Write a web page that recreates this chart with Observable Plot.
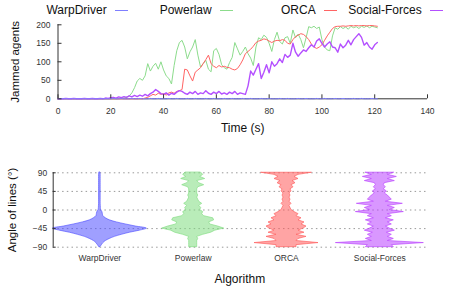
<!DOCTYPE html>
<html><head><meta charset="utf-8">
<script src="https://cdn.jsdelivr.net/npm/d3@7"></script>
<script src="https://cdn.jsdelivr.net/npm/@observablehq/plot@0.6"></script>
<style>
body{margin:0;background:#fff;font-family:"Liberation Sans",Arial,sans-serif;}
#wrap{position:relative;width:449px;height:288px;overflow:hidden;background:#fff;}
#top{position:absolute;left:0;top:0;}
#bottom{position:absolute;left:0;top:140px;}
.leg{position:absolute;top:3px;font-size:12px;line-height:14px;color:#111;white-space:nowrap;text-align:right;}
.sw{position:absolute;top:10px;height:0;width:13px;border-top:1px solid;}
</style></head><body><div id="wrap"><div id="top"></div><div id="bottom"></div></div>
<script>
// ---------- data ----------
const algorithms = ["WarpDriver", "Powerlaw", "ORCA", "Social-Forces"];
const timeStep = 1; // seconds between samples
const timeTicks = [0, 20, 40, 60, 80, 100, 120, 140];
const jamTicks = [0, 50, 100, 150, 200];
const angleTicks = [-90, -45, 0, 45, 90];
const timeLabel = "Time (s)";
const jamLabel = "Jammed agents";
const algLabel = "Algorithm";
const angleLabel = "Angle of lines (°)";

const warpDriver = [0,0,0,0,0,0,0,0,0,0, 0,0,0,0,0,0,0,0,0,0, 0,1,0,0,1,0,0,0,1,0, 0,1,0,0,0,1,0,0,1,0, 0,0,1,0,0,1,0,0,0,1, 0,0,1,0,0,0,1,0,0,1, 0,0,0,1,0,0,1,0,0,0, 1,0,0,1,0,0,0,1,0,0, 1,0,0,0,1,0,0,1,0,0, 0,1,0,0,1,0,0,0,1,0, 0,1,0,0,0,1,0,0,1,0, 0,0,1,0,0,1,0,0,0,1, 0,0];
const powerlaw = [0,0,0,0,0,0,0,0,0,0, 0,0,0,0,0,0,0,0,0,0, 0,0,0,1,3,2,5,8,16,30,
  48,55,50,62,95,75,88,96,80,100,
  78,62,55,40,90,130,152,158,140,108,
  127,140,160,118,86,95,104,80,73,130,
  136,120,92,84,80,98,112,152,135,118,
  128,140,122,110,90,140,165,160,172,166,
  150,128,160,180,155,148,165,168,150,186,
  165,175,160,138,165,195,192,196,190,194,
  160,140,132,130,170,192,188,195,190,194,
  188,196,192,195,190,196,193,197,192,196,
  194,192];
const orca = [0,0,0,0,0,0,0,0,0,0, 0,0,0,0,0,0,0,0,0,0, 0,0,0,0,0,0,0,0,0,0, 0,0,0,2,4,8,12,10,15,12,
  14,10,16,18,15,20,22,25,80,78,
  62,48,72,78,84,95,106,118,95,88,
  84,90,86,88,85,84,80,78,82,92,
  105,122,128,134,142,152,156,158,162,160,
  156,152,156,158,157,160,158,150,148,160,
  168,172,176,174,168,160,148,140,136,140,
  146,158,170,180,190,195,196,196,197,196,
  197,198,197,198,197,198,198,197,198,198,
  197,196];
const socialForces = [0,0,0,1,0,0,1,0,0,0, 1,0,0,1,0,0,1,0,2,1, 3,4,2,5,3,6,4,8,5,9,
  6,10,7,12,8,14,18,25,20,14,
  12,16,10,15,12,18,22,20,15,12,
  18,14,20,12,16,14,22,15,12,18,
  14,20,13,16,12,18,14,20,12,16,
  14,12,35,75,64,80,95,55,72,92,
  70,100,88,95,108,98,120,112,118,150,
  126,115,124,132,128,138,146,140,156,162,
  150,140,148,154,140,138,126,148,138,145,
  158,146,160,168,176,166,145,152,140,134,
  146,152];

// violin half-widths (density) at each angle
const violinAngles = [90,85,80,75,70,65,60,55,50,45,40,35,30,25,20,15,10,5,0,-5,-10,-15,-20,-25,-30,-35,-40,-45,-50,-55,-60,-65,-70,-75,-80,-85,-90];
const warpDriverWidth = [0.6,0.8,0.8,0.8,0.8,0.8,0.8,0.8,0.8,0.8,0.8,0.8,0.8,0.8,0.8,0.8,0.9,1,1.3,2.5,3,3.5,6,10,17,26,36,47,40,30,22,15,10,6,3.5,2,0.6];
const powerlawWidth = [8,10,7,12,4,6,11,5,4,4,4,5,4,5,6,9,6,8,7,10,9,11,20,21,16,17,25,31,22,18,10,4,5,4,4,4,4];
const orcaWidth = [25,12,8,12,6,9,5,7,4,5,3,4,3,4,3,5,3,4,5,8,12,10,15,12,18,15,20,17,12,18,10,20,12,10,32,10,10];
const socialForcesWidth = [14,8,17,8,15,5,4,6,4,7,5,8,10,12,6,23,8,15,10,24,8,12,6,14,8,12,6,10,15,7,12,8,14,8,44,12,14];

// ---------- styling ----------
const lineColors = ["#7f7fff", "#8cdc8c", "#ff6464", "#b450ff"];
const violinColors = ["#5050ff", "#80dc80", "#ff5a5a", "#b941ff"];
const fontFamily = "'Liberation Sans', Arial, Helvetica, sans-serif";

const seriesValues = [warpDriver, powerlaw, orca, socialForces];
const lineData = seriesValues.map((vals, k) => vals.map((v, i) => ({alg: algorithms[k], t: i * timeStep, v})));
const drawOrder = [1, 2, 3, 0];

const topChart = Plot.plot({
  width: 449, height: 140,
  marginTop: 24.3, marginBottom: 41.7, marginLeft: 57.5, marginRight: 22,
  x: {domain: [0, 140]},
  y: {domain: [0, 200]},
  style: {fontFamily, fontSize: "8.5px", color: "#333", background: "transparent", overflow: "visible"},
  marks: [
    Plot.ruleY([0], {stroke: "#333"}),
    Plot.ruleX([0], {stroke: "#333"}),
    ...drawOrder.map(k => Plot.line(lineData[k], {x: "t", y: "v", stroke: lineColors[k], strokeWidth: k === 3 ? 1.4 : 1})),
    Plot.axisX({ticks: timeTicks, tickSize: -4, tickPadding: 13, label: null}),
    Plot.axisY({ticks: jamTicks, tickSize: -4, tickPadding: 11.5, label: null}),
    Plot.text([timeLabel], {text: d => d, frameAnchor: "bottom", dy: 33, fontSize: 12, fill: "#111"}),
    Plot.text([jamLabel], {text: d => d, frameAnchor: "left", dx: -42.5, rotate: -90, textAnchor: "middle", fontSize: 11.5, fill: "#111"})
  ]
});
document.getElementById("top").appendChild(topChart);

// legend
const legendTextRight = [106.7, 211.7, 315.7, 421.7];
const wrap = document.getElementById("wrap");
algorithms.forEach((name, k) => {
  const t = document.createElement("div");
  t.className = "leg";
  t.textContent = name;
  t.style.right = (449 - legendTextRight[k]) + "px";
  wrap.appendChild(t);
  const s = document.createElement("div");
  s.className = "sw";
  s.style.left = (legendTextRight[k] + 8.5) + "px";
  s.style.borderTopColor = lineColors[k];
  wrap.appendChild(s);
});

const violinWidths = [warpDriverWidth, powerlawWidth, orcaWidth, socialForcesWidth];
const bandPx = (449 - 52.7 - 23) / algorithms.length; // pixels per category unit
const violinRows = k => violinAngles.map((a, i) => ({angle: a, w: violinWidths[k][i]}));

const bottomChart = Plot.plot({
  width: 449, height: 148,
  marginTop: 32.3, marginBottom: 41.3, marginLeft: 52.7, marginRight: 23,
  x: {domain: [0, algorithms.length]},
  y: {domain: [-90, 90]},
  style: {fontFamily, fontSize: "8.5px", color: "#333", background: "transparent", overflow: "visible"},
  marks: [
    Plot.ruleY(angleTicks, {stroke: "#999", strokeDasharray: "1.5,3.2"}),
    ...algorithms.map((name, k) => Plot.areaX(violinRows(k), {
      y: "angle",
      x1: d => k + 0.5 - d.w / bandPx,
      x2: d => k + 0.5 + d.w / bandPx,
      fill: violinColors[k], fillOpacity: 0.55,
      stroke: violinColors[k], strokeOpacity: 0.8, strokeWidth: 0.8,
      curve: k === 0 ? "catmull-rom" : "linear"
    })),
    Plot.ruleX([0], {stroke: "#333"}),
    Plot.axisY({ticks: angleTicks, tickSize: -3, tickPadding: 9, label: null}),
    Plot.axisX({ticks: algorithms.map((d, i) => i + 0.5), tickFormat: v => algorithms[Math.floor(v)], tickSize: 0, tickPadding: 8, label: null}),
    Plot.text([algLabel], {text: d => d, frameAnchor: "bottom", dy: 35.3, fontSize: 12, fill: "#111"}),
    Plot.text([angleLabel], {text: d => d, frameAnchor: "left", dx: -40.7, rotate: -90, textAnchor: "middle", fontSize: 11.5, fill: "#111"})
  ]
});
document.getElementById("bottom").appendChild(bottomChart);
</script>
</body></html>
